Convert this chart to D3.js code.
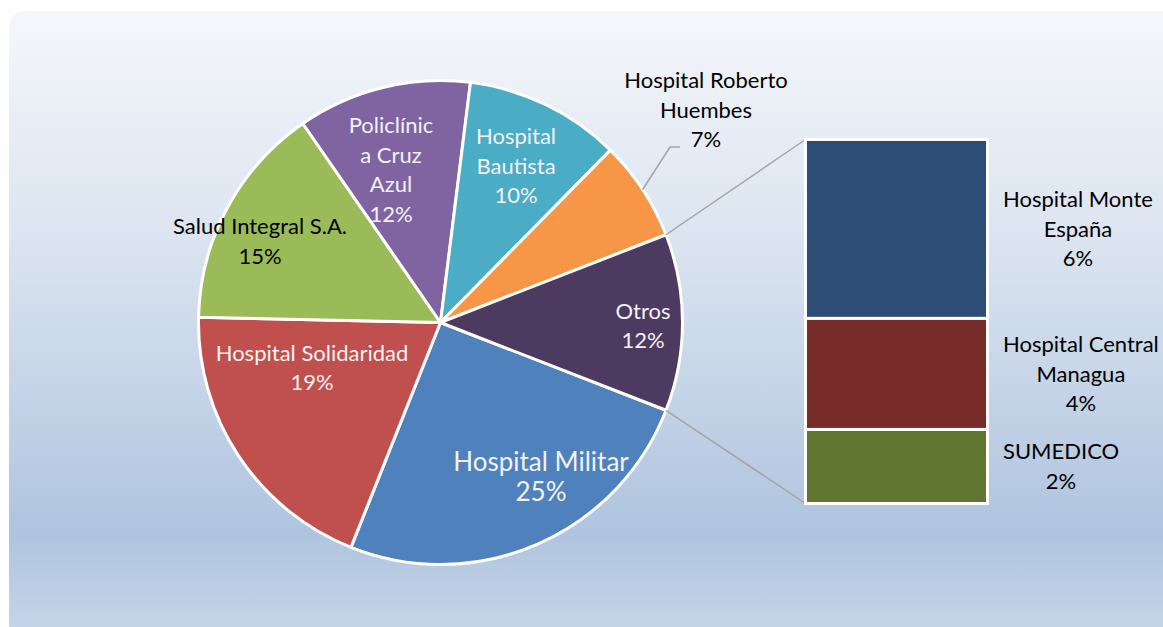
<!DOCTYPE html>
<html>
<head>
<meta charset="utf-8">
<script src="https://cdn.jsdelivr.net/npm/d3@7"></script>
<style>
  body { margin: 0; background: #fff; }
  text { font-family: Lato, "Open Sans", sans-serif; }
</style>
</head>
<body>
<div id="chart"></div>
<script>
// pie-of-bar: main slices + the "Otros" breakdown shown in the bar
const pieLabels = ["Hospital Militar", "Hospital Solidaridad", "Salud Integral S.A.", "Policlínica Cruz Azul", "Hospital Bautista", "Hospital Roberto Huembes"];
const pieValues = [25.1, 19.3, 15.0, 11.6, 10.4, 6.7];
const pieLines = [["Hospital Militar"], ["Hospital Solidaridad"], ["Salud Integral S.A."], ["Policlínic", "a Cruz", "Azul"], ["Hospital", "Bautista"], ["Hospital Roberto", "Huembes"]];
const otherLabel = "Otros";

const barLabels = ["Hospital Monte España", "Hospital Central Managua", "SUMEDICO"];
const barValues = [5.8, 3.6, 2.4];
const barLines = [["Hospital Monte", "España"], ["Hospital Central", "Managua"], ["SUMEDICO"]];

const pieColors = ["#4f81bd", "#c0504d", "#9bbb59", "#8064a2", "#4bacc6", "#f79646", "#4d3a61"];
const barColors = ["#2c4d75", "#772c2a", "#5f7530"];

const width = 1163, height = 627;
const cx = 440.5, cy = 322.5, r = 242;
const lineH = 29.5;
const fmt = d3.format(".0%");

const svg = d3.select("#chart")
  .append("svg")
  .attr("width", width)
  .attr("height", height);

// background
const grad = svg.append("defs").append("linearGradient")
  .attr("id", "bg")
  .attr("x1", 0).attr("y1", 0).attr("x2", 0).attr("y2", 1);
grad.append("stop").attr("offset", "0%").attr("stop-color", "#f5f7fb");
grad.append("stop").attr("offset", "40%").attr("stop-color", "#d8e2ef");
grad.append("stop").attr("offset", "83%").attr("stop-color", "#afc4df");
grad.append("stop").attr("offset", "100%").attr("stop-color", "#c8d7ea");

svg.append("rect")
  .attr("x", 9).attr("y", 11)
  .attr("width", 1170).attr("height", 630)
  .attr("rx", 16)
  .attr("fill", "url(#bg)");

const otros = d3.sum(barValues);
const total = d3.sum(pieValues) + otros;

const slices = pieLabels.map((name, i) => ({
  name, value: pieValues[i], lines: pieLines[i], color: pieColors[i]
}));
slices.push({ name: otherLabel, value: otros, lines: [otherLabel], color: pieColors[6] });

// "Otros" sits centred on the right side of the pie
const otrosAngle = 2 * Math.PI * otros / total;
const start = Math.PI / 2 + otrosAngle / 2;

const pie = d3.pie()
  .sort(null)
  .value(d => d.value)
  .startAngle(start)
  .endAngle(start + 2 * Math.PI);

const arc = d3.arc().innerRadius(0).outerRadius(r);
const arcs = pie(slices);

const g = svg.append("g").attr("transform", `translate(${cx},${cy})`);

g.selectAll("path")
  .data(arcs)
  .enter()
  .append("path")
  .attr("d", arc)
  .attr("fill", d => d.data.color)
  .attr("stroke", "#fff")
  .attr("stroke-width", 3)
  .attr("stroke-linejoin", "round");

const edge = a => [r * Math.sin(a), -r * Math.cos(a)];

// bar of the "Otros" slice
const barX = 805.5, barW = 182;
const y = d3.scaleLinear().domain([0, otros]).range([139.5, 503.5]);
let acc = 0;
const segs = barValues.map((v, i) => {
  const s = { y0: y(acc), y1: y(acc + v), value: v, lines: barLines[i], color: barColors[i] };
  acc += v;
  return s;
});

// connector lines
const oArc = arcs[arcs.length - 1];
const p0 = edge(oArc.startAngle), p1 = edge(oArc.endAngle);
svg.append("line")
  .attr("x1", cx + p0[0]).attr("y1", cy + p0[1])
  .attr("x2", barX).attr("y2", y(0))
  .attr("stroke", "#a5a5a5").attr("stroke-width", 1.5);
svg.append("line")
  .attr("x1", cx + p1[0]).attr("y1", cy + p1[1])
  .attr("x2", barX).attr("y2", y(otros))
  .attr("stroke", "#a5a5a5").attr("stroke-width", 1.5);

svg.selectAll("rect.seg")
  .data(segs)
  .enter()
  .append("rect")
  .attr("class", "seg")
  .attr("x", barX)
  .attr("y", d => d.y0)
  .attr("width", barW)
  .attr("height", d => d.y1 - d.y0)
  .attr("fill", d => d.color)
  .attr("stroke", "#fff")
  .attr("stroke-width", 3);

// pie labels (offsets from the pie centre)
const labelOffsets = [[100.5, 154.5], [-128.5, 45.5], [-180.5, -81], [-49.5, -152.5], [75.5, -156.5], [265.5, -212.5], [202.5, 3.5]];
const labelSizes = [26, 22, 22, 22, 22, 22, 22];
const darkText = [false, false, true, false, false, true, false];

function block(parent, x, yc, lines, color, size) {
  const lh = size > 22 ? 30.5 : lineH;
  const t = parent.append("text")
    .attr("text-anchor", "middle")
    .attr("fill", color)
    .style("font-size", size + "px");
  const y0 = yc - (lines.length - 1) * lh / 2;
  lines.forEach((l, i) => {
    t.append("tspan")
      .attr("x", x)
      .attr("y", y0 + i * lh)
      .attr("dy", "0.35em")
      .text(l);
  });
  return t;
}

arcs.forEach((d, i) => {
  const [ox, oy] = labelOffsets[i];
  block(svg, cx + ox, cy + oy, d.data.lines.concat([fmt(d.data.value / total)]),
    darkText[i] ? "#000" : "#f2f2f2", labelSizes[i]);
});

// leader line for Hospital Roberto Huembes
const rob = arcs[5];
const mid = (rob.startAngle + rob.endAngle) / 2;
const pm = edge(mid);
const lx = cx + labelOffsets[5][0], ly = cy + labelOffsets[5][1];
svg.append("polyline")
  .attr("points", [[cx + pm[0], cy + pm[1]], [lx - 36, ly + 37], [lx - 26, ly + 37]].map(p => p.join(",")).join(" "))
  .attr("fill", "none")
  .attr("stroke", "#a5a5a5")
  .attr("stroke-width", 1.5);

// bar labels, left edge of each block at x = 1003
segs.forEach(s => {
  const t = block(svg, 0, (s.y0 + s.y1) / 2, s.lines.concat([fmt(s.value / total)]), "#000", 22);
  const spans = t.selectAll("tspan").nodes();
  const w = d3.max(spans, n => n.getComputedTextLength());
  t.selectAll("tspan").attr("x", 1003 + w / 2);
});
</script>
</body>
</html>
